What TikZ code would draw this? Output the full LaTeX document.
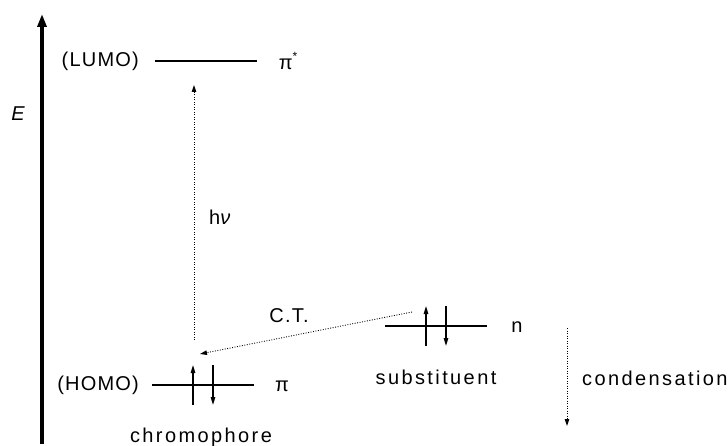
\documentclass[tikz,border=0pt]{standalone}
\usepackage{fontspec}
\setmainfont{Liberation Sans}
\newfontfamily\labfont[LetterSpace=12]{Liberation Sans}
\newfontfamily\capfont[LetterSpace=6]{Liberation Sans}
\usetikzlibrary{arrows.meta}
\begin{document}
\begin{tikzpicture}[x=1pt,y=-1pt,
  lab/.style={font=\labfont\fontsize{20}{22}\selectfont, inner sep=0pt},
  caplab/.style={font=\capfont\fontsize{20}{22}\selectfont, inner sep=0pt},
  level/.style={line width=1.4pt},
  spin/.style={line width=1.3pt, -{Triangle[length=8pt,width=4.5pt]}},
  dotarrow/.style={line width=0.9pt, dash pattern=on 0.9pt off 1.6pt, -{Triangle[length=7pt,width=4.5pt]}}]
\useasboundingbox (0,0) rectangle (728,446);
% energy axis
\coordinate (ebot) at (42,444);
\coordinate (etop) at (42,14);
\draw[line width=4pt, -{Triangle[length=13pt,width=9pt]}] (ebot) -- (etop);
\node[font=\fontsize{20}{22}\selectfont\itshape, inner sep=0pt] (E) at (18,114) {E};
% LUMO
\coordinate (l1) at (155,61);
\coordinate (l2) at (257,61);
\draw[level] (l1) -- (l2);
\node[caplab, anchor=east] (lumo) at (139,61) {(LUMO)};
\node[lab] (pistar) at (288,61) {π\raisebox{0.45em}{\fontsize{12}{12}\selectfont *}};
% HOMO
\coordinate (h1) at (152,385);
\coordinate (h2) at (254,385);
\draw[level] (h1) -- (h2);
\node[caplab, anchor=east] (homo) at (139,385) {(HOMO)};
\node[lab] (pi) at (282,386) {π};
\coordinate (hu1) at (193,405); \coordinate (hu2) at (193,365);
\coordinate (hd1) at (213,365); \coordinate (hd2) at (213,405);
\draw[spin] (hu1) -- (hu2);
\draw[spin] (hd1) -- (hd2);
\node[lab] (chromo) at (201,437) {chromophore};
% h nu transition
\coordinate (hv1) at (194,340);
\coordinate (hv2) at (194,85);
\draw[dotarrow] (hv1) -- (hv2);
\node[lab] (hnu) at (221,217) {h\textit{ν}};
% substituent
\coordinate (s1) at (385,326);
\coordinate (s2) at (487,326);
\draw[level] (s1) -- (s2);
\node[lab] (n) at (517,327) {n};
\coordinate (su1) at (426,346); \coordinate (su2) at (426,306);
\coordinate (sd1) at (446,306); \coordinate (sd2) at (446,346);
\draw[spin] (su1) -- (su2);
\draw[spin] (sd1) -- (sd2);
\node[lab] (subst) at (436,377) {substituent};
% charge transfer
\coordinate (ct1) at (412,312);
\coordinate (ct2) at (200,354);
\draw[dotarrow] (ct1) -- (ct2);
\node[caplab] (ct) at (289,316) {C.T.};
% condensation
\coordinate (c1) at (567,328);
\coordinate (c2) at (567,426);
\draw[dotarrow] (c1) -- (c2);
\node[lab, anchor=west] (cond) at (582,378) {condensation};
\end{tikzpicture}
\end{document}
